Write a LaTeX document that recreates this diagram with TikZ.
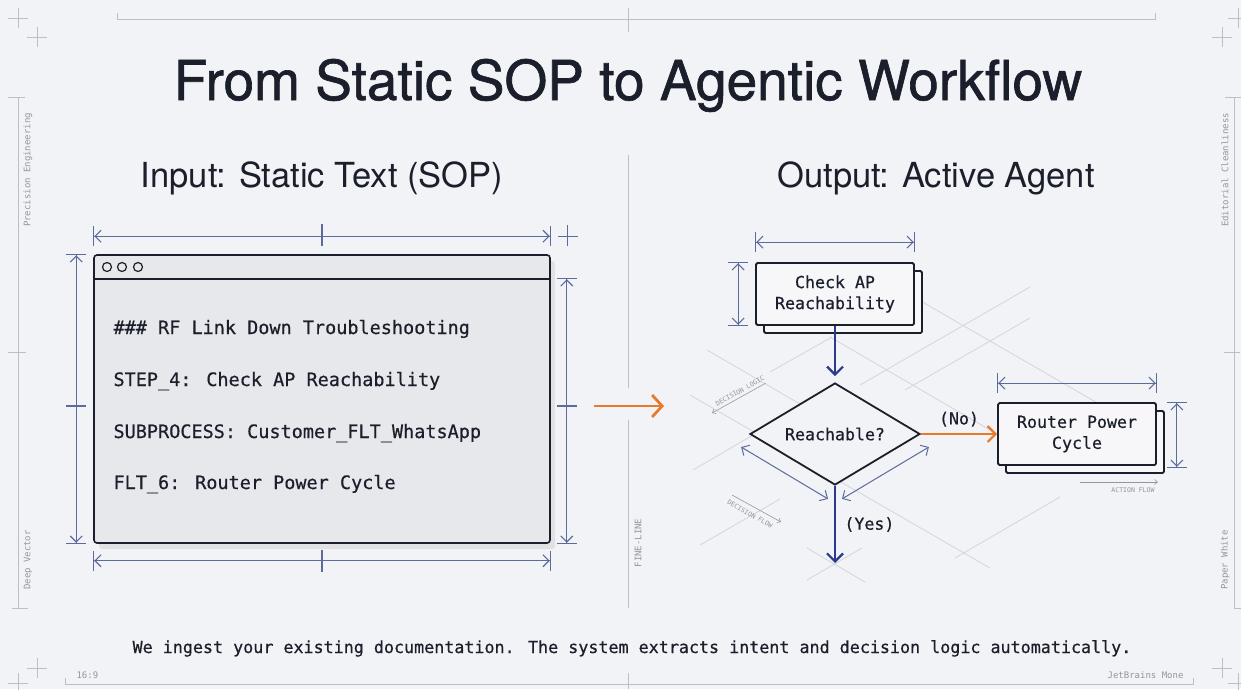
\documentclass[tikz,border=0pt]{standalone}
\usepackage{fontspec}
\setmainfont{TeX Gyre Heros}
\setmonofont{DejaVu Sans Mono}
\newfontfamily\headfam{TeX Gyre Heros}[FakeBold=1.2]
\newfontfamily\codefam{DejaVu Sans Mono}[FakeBold=0.5]
\usetikzlibrary{arrows.meta,shapes.geometric,shadows}

\definecolor{paper}{HTML}{F2F3F6}
\definecolor{ink}{HTML}{1B1F2B}
\definecolor{dimblue}{HTML}{5C6A9C}
\definecolor{flowblue}{HTML}{2A3A8E}
\definecolor{flame}{HTML}{E97A2C}
\definecolor{framegray}{HTML}{BCBFC8}
\definecolor{isogray}{HTML}{D2D5DC}
\definecolor{faint}{HTML}{92969F}
\definecolor{winfill}{HTML}{E7E8EC}
\definecolor{boxfill}{HTML}{F7F7F9}

\newcommand\fHead{\headfam\fontsize{55}{60}\selectfont}
\newcommand\fSub{\fontsize{34.5}{40}\selectfont}
\newcommand\fCode{\codefam\fontsize{18.5}{22}\selectfont}
\newcommand\fFlow{\codefam\fontsize{16.6}{21}\selectfont}
\newcommand\fNote{\ttfamily\fontsize{9}{11}\selectfont}
\newcommand\fTiny{\ttfamily\fontsize{6.5}{8}\selectfont}

\tikzset{
  dimline/.style={draw=dimblue, line width=1.1pt,
    {Bar[width=20pt]Straight Barb[length=6pt,width=12pt]}-{Straight Barb[length=6pt,width=12pt]Bar[width=20pt]}},
  diagdim/.style={draw=dimblue, line width=1pt,
    {Straight Barb[length=6pt,width=12pt]}-{Straight Barb[length=6pt,width=12pt]}},
  dimtick/.style={draw=dimblue, line width=1.1pt},
  flowbox/.style={rectangle, draw=ink, fill=boxfill, line width=1.8pt,
    rounded corners=1.5pt, minimum width=158pt, minimum height=62pt,
    align=center, font=\fFlow, text=ink,
    copy shadow={shadow xshift=8pt, shadow yshift=-8pt}},
  flowarrow/.style={line width=2.2pt, -{Straight Barb[length=8pt,width=16pt]}},
  isoline/.style={draw=isogray, line width=0.8pt},
  sidenote/.style={font=\fNote, text=faint, rotate=90},
}

\begin{document}
\begin{tikzpicture}[x=1pt,y=-1pt]

  \fill[paper] (0,0) rectangle (1241,689);
  \useasboundingbox (0,0) rectangle (1241,689);

  % sheet frame, crosshairs
  \begin{scope}[draw=framegray, line width=0.9pt]
    \draw (117,13) -- (117,19) -- (1155,19) -- (1155,13);
    \draw (628,8) -- (628,32);
    \draw (65,678) -- (65,684) -- (1193,684) -- (1193,678);
    \draw (628,673) -- (628,689);
    \draw (8,97) -- (25,97) (18,97) -- (18,608) (12,608) -- (28,608) (8,352) -- (26,352);
    \draw (1225,97) -- (1241,97) (1234,97) -- (1234,608) (1234,608) -- (1241,608) (1224,352) -- (1240,352);
    \foreach \cx/\cy in {18/18,37/37,1222/37,1238/18,37/668,18/683,1222/668,1238/683}
      \draw (\cx-10,\cy) -- (\cx+10,\cy) (\cx,\cy-10) -- (\cx,\cy+10);
    \draw (628,155) -- (628,388) (628,420) -- (628,608);
  \end{scope}

  \begin{scope}[every node/.style={sidenote}]
    \node (n1) at (28,170)   {Precision Engineering};
    \node (n2) at (28,560)   {Deep Vector};
    \node (n3) at (1225,170) {Editorial Cleanliness};
    \node (n4) at (1225,560) {Paper White};
    \node (n5) at (638,543)  {FINE-LINE};
  \end{scope}
  \node[font=\fNote, text=faint, anchor=base west] (ratio) at (73,678) {16:9};
  \node[font=\fNote, text=faint, anchor=base east] (face) at (1187,678) {JetBrains Mone};

  % headings
  \node[font=\fHead, text=ink, anchor=base] (title) at (628,100) {From Static SOP to Agentic Workflow};
  \node[font=\fSub, text=ink, anchor=base] (inhead) at (322,187) {Input: Static Text (SOP)};
  \node[font=\fSub, text=ink, anchor=base] (outhead) at (936,187) {Output: Active Agent};

  % source document window
  \node[rectangle, draw=ink, fill=winfill, line width=1.6pt, rounded corners=3pt,
        minimum width=456pt, minimum height=288pt,
        drop shadow={shadow xshift=5pt, shadow yshift=-6pt, fill=black!18, opacity=.5}]
        (win) at (322,399) {};
  \draw[ink, line width=1.4pt] (94,279) -- (550,279);
  \foreach \dx in {107,122,138}
    \draw[ink, line width=1.2pt] (\dx,267) circle (4.5);

  \begin{scope}[every node/.style={anchor=base west, font=\fCode, text=ink}]
    \node (l1) at (110,334) {\#\#\# RF Link Down Troubleshooting};
    \node (l2) at (110,386) {STEP\_4: Check AP Reachability};
    \node (l3) at (110,438) {SUBPROCESS: Customer\_FLT\_WhatsApp};
    \node (l4) at (110,489) {FLT\_6: Router Power Cycle};
  \end{scope}

  % window dimensions
  \draw[dimline] ([yshift=18pt]win.north west) -- ([yshift=18pt]win.north east);
  \draw[dimtick] ([yshift=8pt]win.north) -- ([yshift=30pt]win.north);
  \draw[dimline] ([yshift=-17pt]win.south west) -- ([yshift=-17pt]win.south east);
  \draw[dimtick] ([yshift=-6pt]win.south) -- ([yshift=-28pt]win.south);
  \draw[dimline] ([xshift=-17pt]win.north west) -- ([xshift=-17pt]win.south west);
  \draw[dimtick] ([xshift=-27pt,yshift=-7pt]win.west) -- ([xshift=-7pt,yshift=-7pt]win.west);
  \draw[dimline] ([xshift=16pt,yshift=-24pt]win.north east) -- ([xshift=16pt]win.south east);
  \draw[dimtick] ([xshift=6pt,yshift=-7pt]win.east) -- ([xshift=26pt,yshift=-7pt]win.east);
  \draw[dimtick] ([xshift=7pt,yshift=18pt]win.north east) -- ([xshift=27pt,yshift=18pt]win.north east)
                 ([xshift=17pt,yshift=8pt]win.north east) -- ([xshift=17pt,yshift=29pt]win.north east);

  % text -> agent
  \coordinate (src) at (594,406);
  \coordinate (dst) at (664,406);
  \draw[flame, line width=2.8pt, -{Straight Barb[length=10pt,width=22pt]}] (src) -- (dst);

  % isometric guide lines
  \foreach \ax/\ay/\bx/\by in {707/350/800/404, 830/337/990/430, 912/296/1120/416,
      690/395/990/568, 807/548/865/582, 770/372/832/337, 860/385/1030/287,
      693/470/760/431, 905/390/1030/318, 700/545/780/499, 955/558/1060/497,
      807/580/862/548}
    \draw[isoline] (\ax,\ay) -- (\bx,\by);

  % agent flow
  \node[flowbox] (check) at (835,294) {Check AP\\Reachability};
  \node[flowbox] (router) at (1077,434) {Router Power\\Cycle};
  \node[diamond, draw=ink, fill=paper, line width=1.8pt, aspect=1.667, inner sep=0pt,
        minimum width=170pt, minimum height=102pt, font=\fFlow, text=ink]
        (reach) at (835,434) {Reachable?};
  \coordinate (yes) at (835,563);

  \path[flowarrow, draw=flowblue] (check) edge[shorten >=6pt] (reach);
  \path[flowarrow, draw=flowblue] (reach) edge node[right=5pt, font=\fFlow, text=ink] {(Yes)} (yes);
  \path[flowarrow, draw=flame] (reach) edge node[above=3pt, font=\fFlow, text=ink] {(No)} (router);

  % flow dimensions
  \draw[dimline] ([yshift=20pt]check.north west) -- ([yshift=20pt]check.north east);
  \draw[dimline] ([xshift=-17pt]check.north west) -- ([xshift=-17pt]check.south west);
  \draw[dimline] ([yshift=19pt]router.north west) -- ([yshift=19pt]router.north east);
  \draw[dimline] ([xshift=20pt]router.north east) -- ([xshift=20pt,yshift=-2pt]router.south east);
  \draw[diagdim] ([shift={(-8,13)}]reach.west) -- ([shift={(-7,13)}]reach.south);
  \draw[diagdim] ([shift={(7,13)}]reach.south) -- ([shift={(8,13)}]reach.east);

  % small captions
  \draw[faint, line width=0.6pt, -{Straight Barb[length=3pt,width=5pt]}] (766,383) -- (712,413);
  \node[font=\fTiny, text=faint, rotate=30] (logic) at (740,391) {DECISION LOGIC};
  \draw[faint, line width=0.6pt, -{Straight Barb[length=3pt,width=5pt]}] (732,495) -- (781,522);
  \node[font=\fTiny, text=faint, rotate=-30] (dflow) at (750,514) {DECISION FLOW};
  \draw[faint, line width=0.6pt, -{Straight Barb[length=3pt,width=5pt]}] (1080,482) -- (1158,482);
  \node[font=\fTiny, text=faint, anchor=north east] (aflow) at (1158,484) {ACTION FLOW};

  % footer
  \node[font=\codefam\fontsize{16.7}{20}\selectfont, text=ink, anchor=base] (foot) at (632,653)
    {We ingest your existing documentation. The system extracts intent and decision logic automatically.};

\end{tikzpicture}
\end{document}
